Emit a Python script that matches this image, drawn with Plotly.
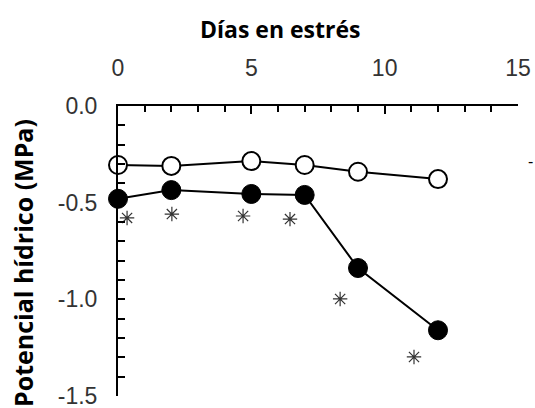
import plotly.graph_objects as go

days = [0, 2, 5, 7, 9, 12]
control = [-0.305, -0.31, -0.285, -0.305, -0.34, -0.378]
stress = [-0.48, -0.435, -0.455, -0.46, -0.838, -1.16]
star_x = [0.34, 2.02, 4.69, 6.45, 8.33, 11.1]
star_y = [-0.579, -0.559, -0.569, -0.585, -0.998, -1.298]
x_ticks = [0, 5, 10, 15]
y_ticks = [0.0, -0.5, -1.0, -1.5]
y_tick_text = ["0.0", "-0.5", "-1.0", "-1.5"]

fig = go.Figure()
fig.add_trace(go.Scatter(x=days, y=control, mode="lines+markers",
                         line=dict(color="black", width=2),
                         marker=dict(symbol="circle", size=18, color="white",
                                     line=dict(color="black", width=2)),
                         cliponaxis=False, showlegend=False))
fig.add_trace(go.Scatter(x=days, y=stress, mode="lines+markers",
                         line=dict(color="black", width=2),
                         marker=dict(symbol="circle", size=19, color="black",
                                     line=dict(color="black", width=1)),
                         cliponaxis=False, showlegend=False))
fig.add_trace(go.Scatter(x=star_x, y=star_y, mode="markers",
                         marker=dict(symbol="asterisk-open", size=12, color="#333333",
                                     line=dict(color="#333333", width=1.2)),
                         cliponaxis=False, showlegend=False))

tick_font = dict(family="Arial", size=23, color="#333333")
fig.update_layout(
    width=535, height=408,
    margin=dict(l=118, r=17, t=106, b=12),
    paper_bgcolor="white", plot_bgcolor="white",
    xaxis=dict(side="top", range=[0, 15], tickvals=x_ticks, automargin=False,
               ticks="inside", ticklen=8, tickwidth=2, tickcolor="black",
               showline=True, linecolor="black", linewidth=2, ticklabeloverflow="allow",
               showgrid=False, zeroline=False, tickfont=tick_font, ticklabelstandoff=19,
               minor=dict(dtick=1, ticks="inside", ticklen=6, tickwidth=2, tickcolor="black")),
    yaxis=dict(range=[-1.5, 0], tickvals=y_ticks, ticktext=y_tick_text, automargin=False,
               ticks="inside", ticklen=7, tickwidth=2, tickcolor="black",
               showline=True, linecolor="black", linewidth=2, ticklabeloverflow="allow",
               showgrid=False, zeroline=False, tickfont=tick_font, ticklabelstandoff=14,
               minor=dict(dtick=0.1, ticks="inside", ticklen=7, tickwidth=2, tickcolor="black")),
    annotations=[
        dict(text="<b>Días en estrés</b>", xref="paper", yref="paper",
             x=(280 - 118) / 400, y=1 + (106 - 29) / 290, showarrow=False,
             xanchor="center", yanchor="middle",
             font=dict(family="Open Sans, sans-serif", size=23, color="black")),
        dict(text="<b>Potencial hídrico (MPa)</b>", xref="paper", yref="paper",
             x=(23 - 118) / 400, y=(396 - 263) / 290, showarrow=False, textangle=-90,
             xanchor="center", yanchor="middle",
             font=dict(family="Open Sans, sans-serif", size=25, color="black")),
        dict(text="-", xref="paper", yref="paper",
             x=(530 - 118) / 400, y=(396 - 161) / 290, showarrow=False,
             xanchor="center", yanchor="middle",
             font=dict(family="Arial", size=16, color="black")),
    ],
)
fig.write_html("out.html", config={"displayModeBar": False},
               post_script="document.body.style.margin='0';document.body.style.padding='0';")
